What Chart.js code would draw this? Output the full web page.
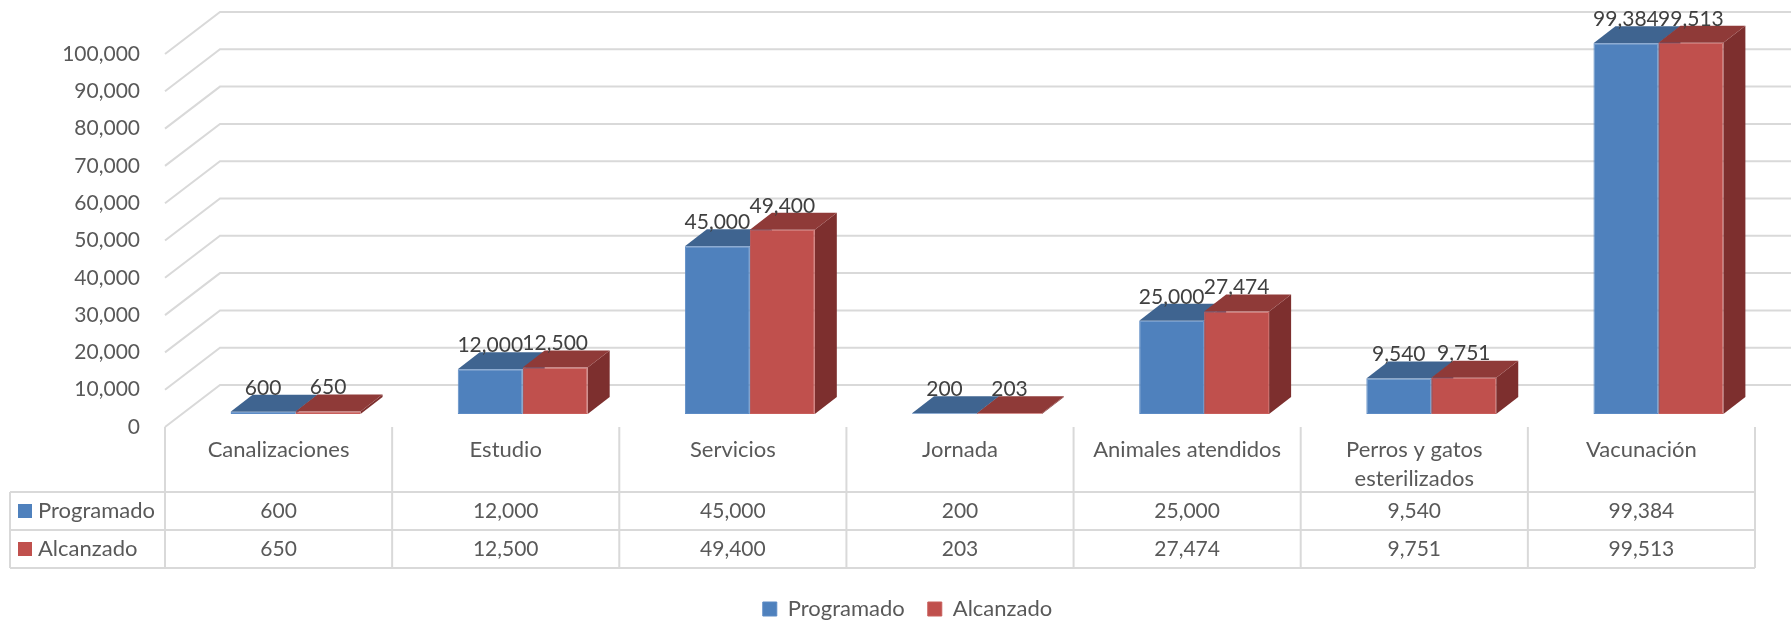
<!DOCTYPE html>
<html>
<head>
<meta charset="utf-8">
<title>Programado vs Alcanzado</title>
<script src="https://cdn.jsdelivr.net/npm/chart.js@4/dist/chart.umd.min.js"></script>
<style>
  html, body { margin: 0; padding: 0; background: #ffffff; }
  canvas { display: block; }
</style>
</head>
<body>
<canvas id="barChart" width="1791" height="621"></canvas>
<script>
const categories = ['Canalizaciones', 'Estudio', 'Servicios', 'Jornada', 'Animales atendidos', ['Perros y gatos', 'esterilizados'], 'Vacunación'];
const programado = [600, 12000, 45000, 200, 25000, 9540, 99384];
const alcanzado = [650, 12500, 49400, 203, 27474, 9751, 99513];
const seriesNames = ['Programado', 'Alcanzado'];

const fontFamily = "Lato, 'Open Sans', sans-serif";
const fontSize = 22;
const numberSize = 21;
const gridColor = '#d9d9d9';
const textColor = '#595959';
const labelColor = '#404040';

// Colours of the three visible faces of each box
const faces = [
    { front: '#4f81bd', edge: '#5c8bc5', top: '#3f6490', side: '#385d8a' },
    { front: '#c0504d', edge: '#c85e5b', top: '#8f3a38', side: '#7d2f2e' }
];

// The wall sits this far behind the axis plane, the bars half way in
const wallDepth = { x: 55, y: -42 };
const barShift = { x: 17, y: -13 };
const barDepth = { x: 22, y: -17 };

const tableRows = { top: 492, bottom: 568, left: 10 };

const fmt = v => v.toLocaleString('en-US');

function fillPoly(ctx, color, pts) {
    ctx.fillStyle = color;
    ctx.beginPath();
    pts.forEach((p, i) => i ? ctx.lineTo(p[0], p[1]) : ctx.moveTo(p[0], p[1]));
    ctx.closePath();
    ctx.fill();
}

const fakeBox = {
    id: 'fakeBox',
    beforeDatasetsDraw(chart) {
        const ctx = chart.ctx;
        const y = chart.scales.y;
        const area = chart.chartArea;

        // Wall grid lines with the slanted part going back from the axis
        ctx.save();
        ctx.strokeStyle = gridColor;
        ctx.lineWidth = 2;
        y.ticks.forEach(t => {
            const py = y.getPixelForValue(t.value);
            ctx.beginPath();
            ctx.moveTo(area.left, py);
            ctx.lineTo(area.left + wallDepth.x, py + wallDepth.y);
            ctx.lineTo(area.right + wallDepth.x, py + wallDepth.y);
            ctx.stroke();
        });

        // Top and side of the boxes, blue first so red covers it
        chart.data.datasets.forEach((ds, i) => {
            const f = faces[i];
            chart.getDatasetMeta(i).data.forEach(bar => {
                const l = bar.x - bar.width / 2 + barShift.x;
                const r = bar.x + bar.width / 2 + barShift.x;
                const t = bar.y + barShift.y;
                const b = bar.base + barShift.y;
                const dx = barDepth.x;
                const dy = barDepth.y;
                fillPoly(ctx, f.side, [[r, t], [r + dx, t + dy], [r + dx, b + dy], [r, b]]);
                fillPoly(ctx, f.top, [[l, t], [l + dx, t + dy], [r + dx, t + dy], [r, t]]);
            });
        });
        ctx.restore();
    },
    beforeDatasetDraw(chart) {
        chart.ctx.save();
        chart.ctx.translate(barShift.x, barShift.y);
    },
    afterDatasetDraw(chart) {
        chart.ctx.restore();
    },
    afterDatasetsDraw(chart) {
        const ctx = chart.ctx;
        ctx.save();
        ctx.font = numberSize + 'px ' + fontFamily;
        ctx.fillStyle = labelColor;
        ctx.textAlign = 'center';
        ctx.textBaseline = 'middle';
        chart.data.datasets.forEach((ds, i) => {
            chart.getDatasetMeta(i).data.forEach((bar, j) => {
                ctx.fillText(fmt(ds.data[j]), bar.x + barShift.x, bar.y + barShift.y - 24);
            });
        });
        ctx.restore();
    },
    afterDraw(chart) {
        const ctx = chart.ctx;
        const x = chart.scales.x;
        const area = chart.chartArea;
        const step = x.width / categories.length;
        const rowH = (tableRows.bottom - tableRows.top) / seriesNames.length;

        ctx.save();
        ctx.strokeStyle = gridColor;
        ctx.lineWidth = 2;
        ctx.beginPath();
        for (let i = 0; i <= categories.length; i++) {
            const vx = x.left + i * step;
            ctx.moveTo(vx, area.bottom);
            ctx.lineTo(vx, tableRows.bottom);
        }
        ctx.moveTo(tableRows.left, tableRows.top);
        ctx.lineTo(tableRows.left, tableRows.bottom);
        for (let r = 0; r <= seriesNames.length; r++) {
            const hy = tableRows.top + r * rowH;
            ctx.moveTo(tableRows.left, hy);
            ctx.lineTo(x.right, hy);
        }
        ctx.stroke();

        ctx.textBaseline = 'middle';
        chart.data.datasets.forEach((ds, r) => {
            const cy = tableRows.top + r * rowH + rowH / 2;
            ctx.fillStyle = ds.backgroundColor;
            ctx.fillRect(18, cy - 7, 14, 14);
            ctx.fillStyle = textColor;
            ctx.textAlign = 'left';
            ctx.font = fontSize + 'px ' + fontFamily;
            ctx.fillText(ds.label, 38, cy);
            ctx.textAlign = 'center';
            ctx.font = numberSize + 'px ' + fontFamily;
            ds.data.forEach((v, c) => ctx.fillText(fmt(v), x.getPixelForTick(c), cy));
        });
        ctx.restore();
    }
};

new Chart(document.getElementById('barChart'), {
    type: 'bar',
    data: {
        labels: categories,
        datasets: [
            { label: seriesNames[0], data: programado, backgroundColor: faces[0].front, borderColor: faces[0].edge, borderWidth: 1, borderSkipped: false, clip: false },
            { label: seriesNames[1], data: alcanzado, backgroundColor: faces[1].front, borderColor: faces[1].edge, borderWidth: 1, borderSkipped: false, clip: false }
        ]
    },
    options: {
        responsive: false,
        animation: false,
        locale: 'en-US',
        devicePixelRatio: 1,
        layout: { padding: { left: 60, top: 54, right: 36, bottom: -9 } },
        datasets: { bar: { barPercentage: 1, categoryPercentage: 0.572 } },
        scales: {
            x: {
                grid: { display: false },
                border: { display: false },
                ticks: {
                    autoSkip: false,
                    maxRotation: 0,
                    padding: 0,
                    color: textColor,
                    font: { family: fontFamily, size: fontSize, lineHeight: 29 / fontSize }
                },
                afterFit: s => { s.height = 148; }
            },
            y: {
                min: 0,
                max: 100000,
                grid: { display: false },
                border: { display: false },
                ticks: {
                    stepSize: 10000,
                    padding: 17,
                    color: textColor,
                    font: { family: fontFamily, size: numberSize },
                    callback: v => fmt(v)
                },
                afterFit: s => { s.width = 105; }
            }
        },
        plugins: {
            tooltip: { enabled: false },
            legend: {
                position: 'bottom',
                labels: {
                    boxWidth: 14,
                    boxHeight: 14,
                    padding: 23,
                    color: textColor,
                    font: { family: fontFamily, size: fontSize }
                }
            }
        }
    },
    plugins: [fakeBox]
});
</script>
</body>
</html>
